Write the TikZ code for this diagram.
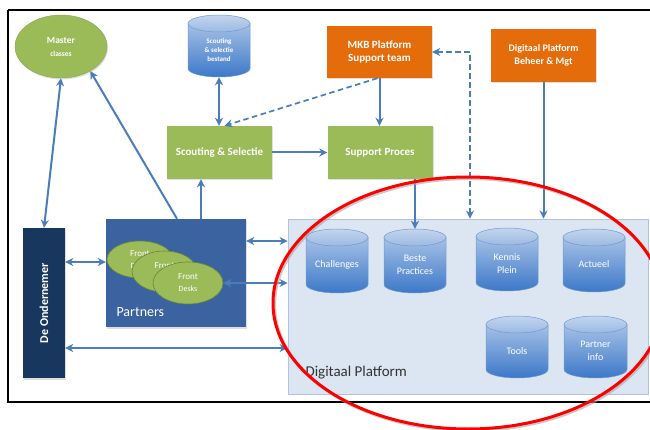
\documentclass[tikz,border=0pt]{standalone}
\usepackage{fontspec}
\setmainfont{Carlito}
\usetikzlibrary{arrows.meta,shapes.geometric,shadows}
\definecolor{gr}{HTML}{9BBB59}
\definecolor{orng}{HTML}{E46C0A}
\definecolor{navy}{HTML}{17375E}
\definecolor{pblue}{HTML}{3B63A0}
\definecolor{dpfill}{HTML}{DCE6F2}
\definecolor{dpline}{HTML}{B0C4DE}
\definecolor{ablue}{HTML}{4A7EBB}
\definecolor{cyltop}{HTML}{A6C1E6}
\definecolor{cylbot}{HTML}{3C78C8}
\definecolor{captop}{HTML}{C3D5EE}
\definecolor{capbot}{HTML}{9CB9E2}
\definecolor{cylline}{HTML}{7099CF}
\newcommand\dbc[7]{%
  \shade[top color=cyltop,bottom color=cylbot,draw=cylline,line width=0.5pt]
    (#2,{-(#3+8.5)}) -- (#2,{-(#5-8.5)})
    arc[start angle=180,end angle=360,x radius={(#4-#2)/2},y radius=8.5]
    -- (#4,{-(#3+8.5)}) -- cycle;
  \shade[top color=captop,bottom color=capbot,draw=cylline,line width=0.5pt]
    ({(#2+#4)/2},{-(#3+8.5)}) ellipse[x radius={(#4-#2)/2},y radius=8.5];
  \node[inner sep=0pt,minimum width={(#4-#2)*1pt},minimum height={(#5-#3)*1pt}]
    (#1) at ({(#2+#4)/2},{-(#3+#5)/2}) {};
  \node[text=white,align=center,inner sep=0pt,font=#6,yshift=-4pt] (#1-t) at (#1.center) {#7};}
\begin{document}
\begin{tikzpicture}[x=1pt,y=1pt,
  >={Stealth[length=8pt,width=8pt,inset=2.5pt]},
  conn/.style={draw=ablue,line width=2pt},
  dconn/.style={draw=ablue,line width=1.7pt,dash pattern=on 5.5pt off 3.5pt},
  shad/.style={drop shadow={opacity=0.25,shadow xshift=1pt,shadow yshift=-1.5pt}},
  greenbox/.style={rectangle,fill=gr,text=white,font=\fontsize{11}{13}\selectfont\bfseries,
    minimum width=105pt,minimum height=53pt,inner sep=0pt,shad},
  orangebox/.style={rectangle,fill=orng,text=white,align=center,
    minimum width=105pt,minimum height=53pt,inner sep=0pt,shad},
  fdesk/.style={ellipse,fill=gr,draw=gr!70!black,line width=0.6pt,text=white,align=center,inner sep=0pt}]
\useasboundingbox (0,0) rectangle (650,-430);
\fill[white] (0,0) rectangle (650,-430);
% frame
\draw[line width=2.6pt,black] (8,-10) -- (670,-10);
\draw[line width=2.6pt,black] (670,-402) -- (8,-402) -- (8,-10);

% digital platform area
\node[rectangle,fill=dpfill,draw=dpline,line width=0.8pt,minimum width=360pt,minimum height=175pt,inner sep=0pt] (dp) at (468,-306.5) {};
\node[anchor=base west,text=black!80,font=\fontsize{15}{17}\selectfont] (dplab) at (302,-376) {Digitaal Platform};

% top elements
\node[ellipse,fill=gr,draw=gr!90!black,line width=0.4pt,minimum width=92pt,minimum height=63pt,inner sep=0pt,text=white,align=center,shad] (master) at (61,-46.5)
  {\fontsize{9.5}{11}\selectfont\bfseries Master\\[1pt]\fontsize{7.5}{9}\selectfont\bfseries classes};
\dbc{sdb}{188}{15}{250}{77}{\fontsize{7}{9}\selectfont\bfseries}{Scouting\\\& selectie\\bestand}
\node[orangebox,minimum height=52pt,font=\fontsize{11}{13.5}\selectfont\bfseries] (mkb) at (379.5,-52) {MKB Platform\\Support team};
\node[orangebox,font=\fontsize{10}{12.5}\selectfont\bfseries] (dpb) at (543.5,-55.5) {Digitaal Platform\\Beheer \& Mgt};
\node[greenbox] (scout) at (219.5,-152.5) {Scouting \& Selectie};
\node[greenbox] (support) at (380,-152.5) {Support Proces};

% left side
\node[rectangle,fill=navy,minimum width=42pt,minimum height=150pt,inner sep=0pt,shad] (onder) at (44,-303) {};
\node[rotate=90,text=white,font=\fontsize{12}{14}\selectfont\bfseries] (onderlab) at (onder.center) {De Ondernemer};
\node[rectangle,fill=pblue,minimum width=140pt,minimum height=108pt,inner sep=0pt,shad] (partners) at (176,-273) {};
\node[anchor=base west,text=white,font=\fontsize{14}{16}\selectfont] (plab) at (113,-316) {Partners};
\node[fdesk,minimum width=66pt,minimum height=37pt] (fd1) at (140,-259.5) {\fontsize{9}{10}\selectfont Front\\\fontsize{8}{10}\selectfont Desks};
\node[fdesk,minimum width=65pt,minimum height=41pt] (fd2) at (164.5,-271.5) {\fontsize{9}{10}\selectfont Front\\\fontsize{8}{10}\selectfont Desks};
\node[fdesk,minimum width=70pt,minimum height=42pt] (fd3) at (188,-283) {\fontsize{9}{12}\selectfont Front\\\fontsize{8}{10}\selectfont Desks};

% databases in platform
\dbc{chal}{306}{229}{368}{293}{\fontsize{10}{12}\selectfont}{Challenges}
\dbc{bp}{384}{229}{446}{293}{\fontsize{10}{13}\selectfont}{Beste\\Practices}
\dbc{kp}{476}{228}{538}{291}{\fontsize{10}{13}\selectfont}{Kennis\\Plein}
\dbc{act}{563}{229}{625}{292}{\fontsize{10}{12}\selectfont}{Actueel}
\dbc{tools}{486}{316}{548}{378}{\fontsize{10}{12}\selectfont}{Tools}
\dbc{pinfo}{564}{316}{627}{378}{\fontsize{10}{13}\selectfont}{Partner\\info}

% connectors
\draw[conn,<->] (master.south) -- (onder.north);
\draw[conn,->] ([xshift=1pt]partners.north) -- (master.-40);
\draw[conn,->] ([xshift=25pt]partners.north) -- ([xshift=-18.5pt]scout.south);
\draw[conn,<->] (sdb.south) -- (sdb.south |- scout.north);
\draw[dconn,->] ([xshift=-2pt]mkb.south) -- ([xshift=5pt]scout.north);
\draw[conn,->] (mkb.south) -- (mkb.south |- support.north);
\draw[conn,->] (scout.east) -- (support.west);
\draw[conn,->] (support.south -| bp.north) -- (bp.north);
\draw[dconn,<->] (mkb.east) -| ([xshift=2pt]dp.north);
\draw[conn,->] (dpb.south) -- (dpb.south |- dp.north);
\coordinate (c1) at ([yshift=11pt]partners.west);
\draw[conn,<->] (c1 -| onder.east) -- (c1);
\coordinate (c2) at ([yshift=32pt]partners.east);
\draw[conn,<->] (c2) -- (c2 -| dp.west);
\draw[conn,<->] (fd3.east) -- (fd3.east -| dp.west);
\coordinate (c3) at ([yshift=-45pt]onder.east);
\draw[conn,<->] (c3) -- (c3 -| dp.west);

% red ellipse
\draw[black!35,opacity=0.6,line width=3.2pt] (469.5,-304.5) ellipse[x radius=195,y radius=126];
\draw[red,line width=3pt] (468,-303) ellipse[x radius=195,y radius=126];
\end{tikzpicture}
\end{document}
